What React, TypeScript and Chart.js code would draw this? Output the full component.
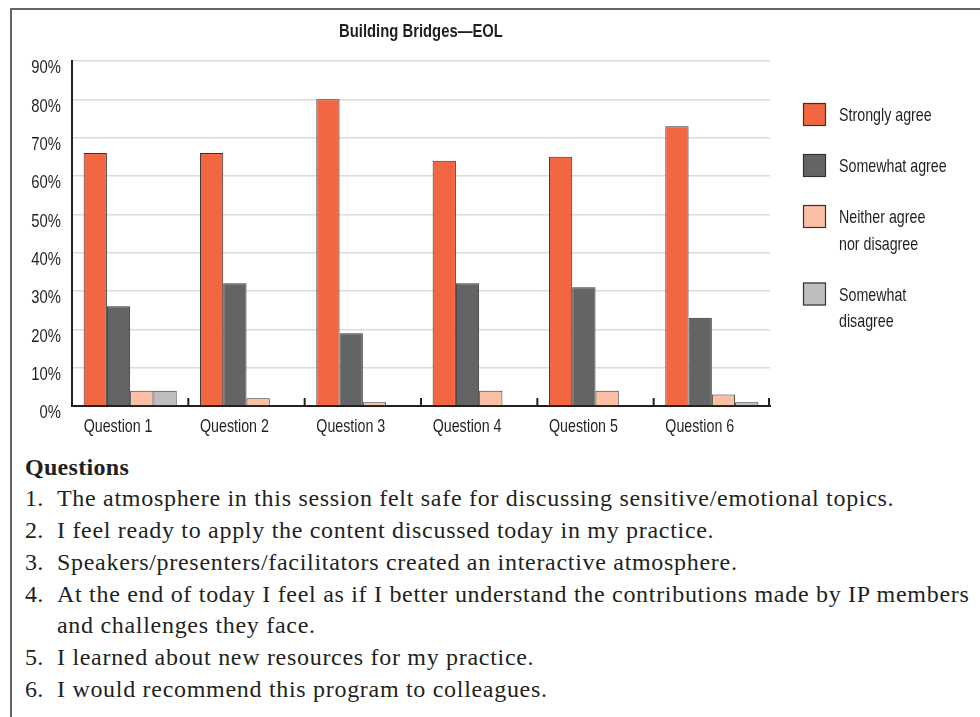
import React, { useEffect, useRef } from "react";
import { Chart, registerables } from "chart.js";

Chart.register(...registerables);

// ---------- data ----------
const chartTitle = "Building Bridges\u2014EOL";
const categories = ["Question 1", "Question 2", "Question 3", "Question 4", "Question 5", "Question 6"];
const seriesNames = ["Strongly agree", "Somewhat agree", "Neither agree nor disagree", "Somewhat disagree"];
const legendLines = [["Strongly agree"], ["Somewhat agree"], ["Neither agree", "nor disagree"], ["Somewhat", "disagree"]];
const stronglyAgree = [66, 66, 80, 64, 65, 73];
const somewhatAgree = [26, 32, 19, 32, 31, 23];
const neitherAgree = [4, 2, 1, 4, 4, 3];
const somewhatDisagree = [4, 0, 0, 0, 0, 1];
const yTickValues = [0, 10, 20, 30, 40, 50, 60, 70, 80, 90];
const yTickLabels = ["0%", "10%", "20%", "30%", "40%", "50%", "60%", "70%", "80%", "90%"];
const questionsHeading = "Questions";
const questions = [
  "The atmosphere in this session felt safe for discussing sensitive/emotional topics.",
  "I feel ready to apply the content discussed today in my practice.",
  "Speakers/presenters/facilitators created an interactive atmosphere.",
  "At the end of today I feel as if I better understand the contributions made by IP members\nand challenges they face.",
  "I learned about new resources for my practice.",
  "I would recommend this program to colleagues.",
];

// ---------- styles ----------
const colors = ["#F26641", "#636466", "#FBBFA5", "#BCBEC0"];
const SANS = "'Liberation Sans', Arial, sans-serif";
const SERIF = "'Liberation Serif', 'Times New Roman', serif";
const TEXT = "#231f20";
const SX = 0.78; // horizontal condensing of the sans text

function condensedText(
  ctx: CanvasRenderingContext2D,
  text: string,
  x: number,
  y: number,
  font: string,
  align: CanvasTextAlign,
  sx = SX
) {
  ctx.save();
  ctx.translate(x, y);
  ctx.scale(sx, 1);
  ctx.font = font;
  ctx.textAlign = align;
  ctx.textBaseline = "middle";
  ctx.fillStyle = TEXT;
  ctx.fillText(text, 0, 0);
  ctx.restore();
}

const decorPlugin = {
  id: "decor",
  afterDraw(chart: any) {
    const { ctx, chartArea } = chart;
    const xs = chart.scales.x;
    const ys = chart.scales.y;
    ctx.save();
    // title centred over plot area
    condensedText(ctx, chartTitle, (chartArea.left + chartArea.right) / 2, 22, `bold 19px ${SANS}`, "center");
    // y tick labels
    yTickValues.forEach((v, i) => {
      condensedText(ctx, yTickLabels[i], chartArea.left - 11, ys.getPixelForValue(v) + 7, `19px ${SANS}`, "right");
    });
    // x tick labels, aligned with the start of each bar group
    const catW = xs.getPixelForValue(1) - xs.getPixelForValue(0);
    categories.forEach((c, i) => {
      condensedText(ctx, c, xs.getPixelForValue(i) - catW * 0.4, chartArea.bottom + 21, `18.5px ${SANS}`, "left", 0.77);
    });
    // inward tick marks at category boundaries
    ctx.strokeStyle = TEXT;
    ctx.lineWidth = 2;
    for (let i = 0; i < categories.length; i++) {
      const bx =
        i < categories.length - 1
          ? (xs.getPixelForValue(i) + xs.getPixelForValue(i + 1)) / 2
          : chartArea.right - 1;
      ctx.beginPath();
      ctx.moveTo(bx, chartArea.bottom);
      ctx.lineTo(bx, chartArea.bottom - 8);
      ctx.stroke();
    }
    // legend
    const boxX = chartArea.right + 33;
    let top = chartArea.top + 42;
    const lineH = 26.5;
    legendLines.forEach((lines, i) => {
      ctx.fillStyle = colors[i];
      ctx.fillRect(boxX, top, 23, 23);
      ctx.strokeStyle = "#333";
      ctx.lineWidth = 1.2;
      ctx.strokeRect(boxX + 0.5, top + 0.5, 22, 22);
      lines.forEach((ln, j) => {
        condensedText(ctx, ln, boxX + 36, top + 13 + j * lineH, `18.5px ${SANS}`, "left", 0.77);
      });
      top += 51 + (lines.length - 1) * lineH;
    });
    ctx.restore();
  },
};

function BarChart() {
  const ref = useRef<HTMLCanvasElement | null>(null);
  useEffect(() => {
    if (!ref.current) return;
    const data = [stronglyAgree, somewhatAgree, neitherAgree, somewhatDisagree];
    const chart = new Chart(ref.current, {
      type: "bar",
      data: {
        labels: categories,
        datasets: seriesNames.map((name, i) => ({
          label: name,
          data: data[i],
          backgroundColor: colors[i],
          borderColor: "#333333",
          borderWidth: 1,
          categoryPercentage: 0.8,
          barPercentage: 1.0,
        })),
      },
      options: {
        responsive: false,
        animation: false,
        devicePixelRatio: 1,
        layout: { padding: { left: 0, right: 210, top: 51, bottom: 12 } },
        plugins: {
          legend: { display: false },
          tooltip: { enabled: false },
          title: { display: false },
        },
        scales: {
          x: {
            afterFit(scale: any) {
              scale.height = 32;
            },
            grid: { display: true, drawOnChartArea: false, drawTicks: false, offset: true },
            border: { display: true, color: TEXT, width: 2 },
            ticks: { display: false },
          },
          y: {
            min: 0,
            max: 90,
            afterFit(scale: any) {
              scale.width = 60;
            },
            afterBuildTicks(scale: any) {
              scale.ticks = yTickValues.map((v) => ({ value: v }));
            },
            grid: { color: "#dcdcdc", lineWidth: 1.5, drawTicks: false },
            border: { display: true, color: TEXT, width: 2 },
            ticks: { display: false },
          },
        },
      },
      plugins: [decorPlugin],
    });
    return () => chart.destroy();
  }, []);
  return (
    <canvas
      ref={ref}
      width={968}
      height={440}
      style={{ position: "absolute", left: 12, top: 10, width: 968, height: 440 }}
    />
  );
}

export default function App() {
  return (
    <div style={{ position: "relative", width: 980, height: 717, overflow: "hidden", background: "#fff" }}>
      <style>{`body{margin:0;}`}</style>
      <div
        style={{
          position: "absolute",
          left: 10,
          top: 8,
          width: 980,
          height: 720,
          borderTop: "2px solid #666",
          borderLeft: "2px solid #666",
        }}
      />
      <BarChart />
      <div
        style={{
          position: "absolute",
          left: 25,
          top: 451.5,
          width: 1000,
          fontFamily: SERIF,
          fontSize: 24,
          letterSpacing: "0.7px",
          lineHeight: "31.8px",
          color: TEXT,
        }}
      >
        <div style={{ fontWeight: "bold", letterSpacing: "0.3px" }}>{questionsHeading}</div>
        {questions.map((q, i) => (
          <div key={i} style={{ display: "flex" }}>
            <span style={{ width: 32, flex: "0 0 32px", letterSpacing: "0.3px" }}>{`${i + 1}.`}</span>
            <span style={{ whiteSpace: "pre" }}>{q}</span>
          </div>
        ))}
      </div>
    </div>
  );
}
